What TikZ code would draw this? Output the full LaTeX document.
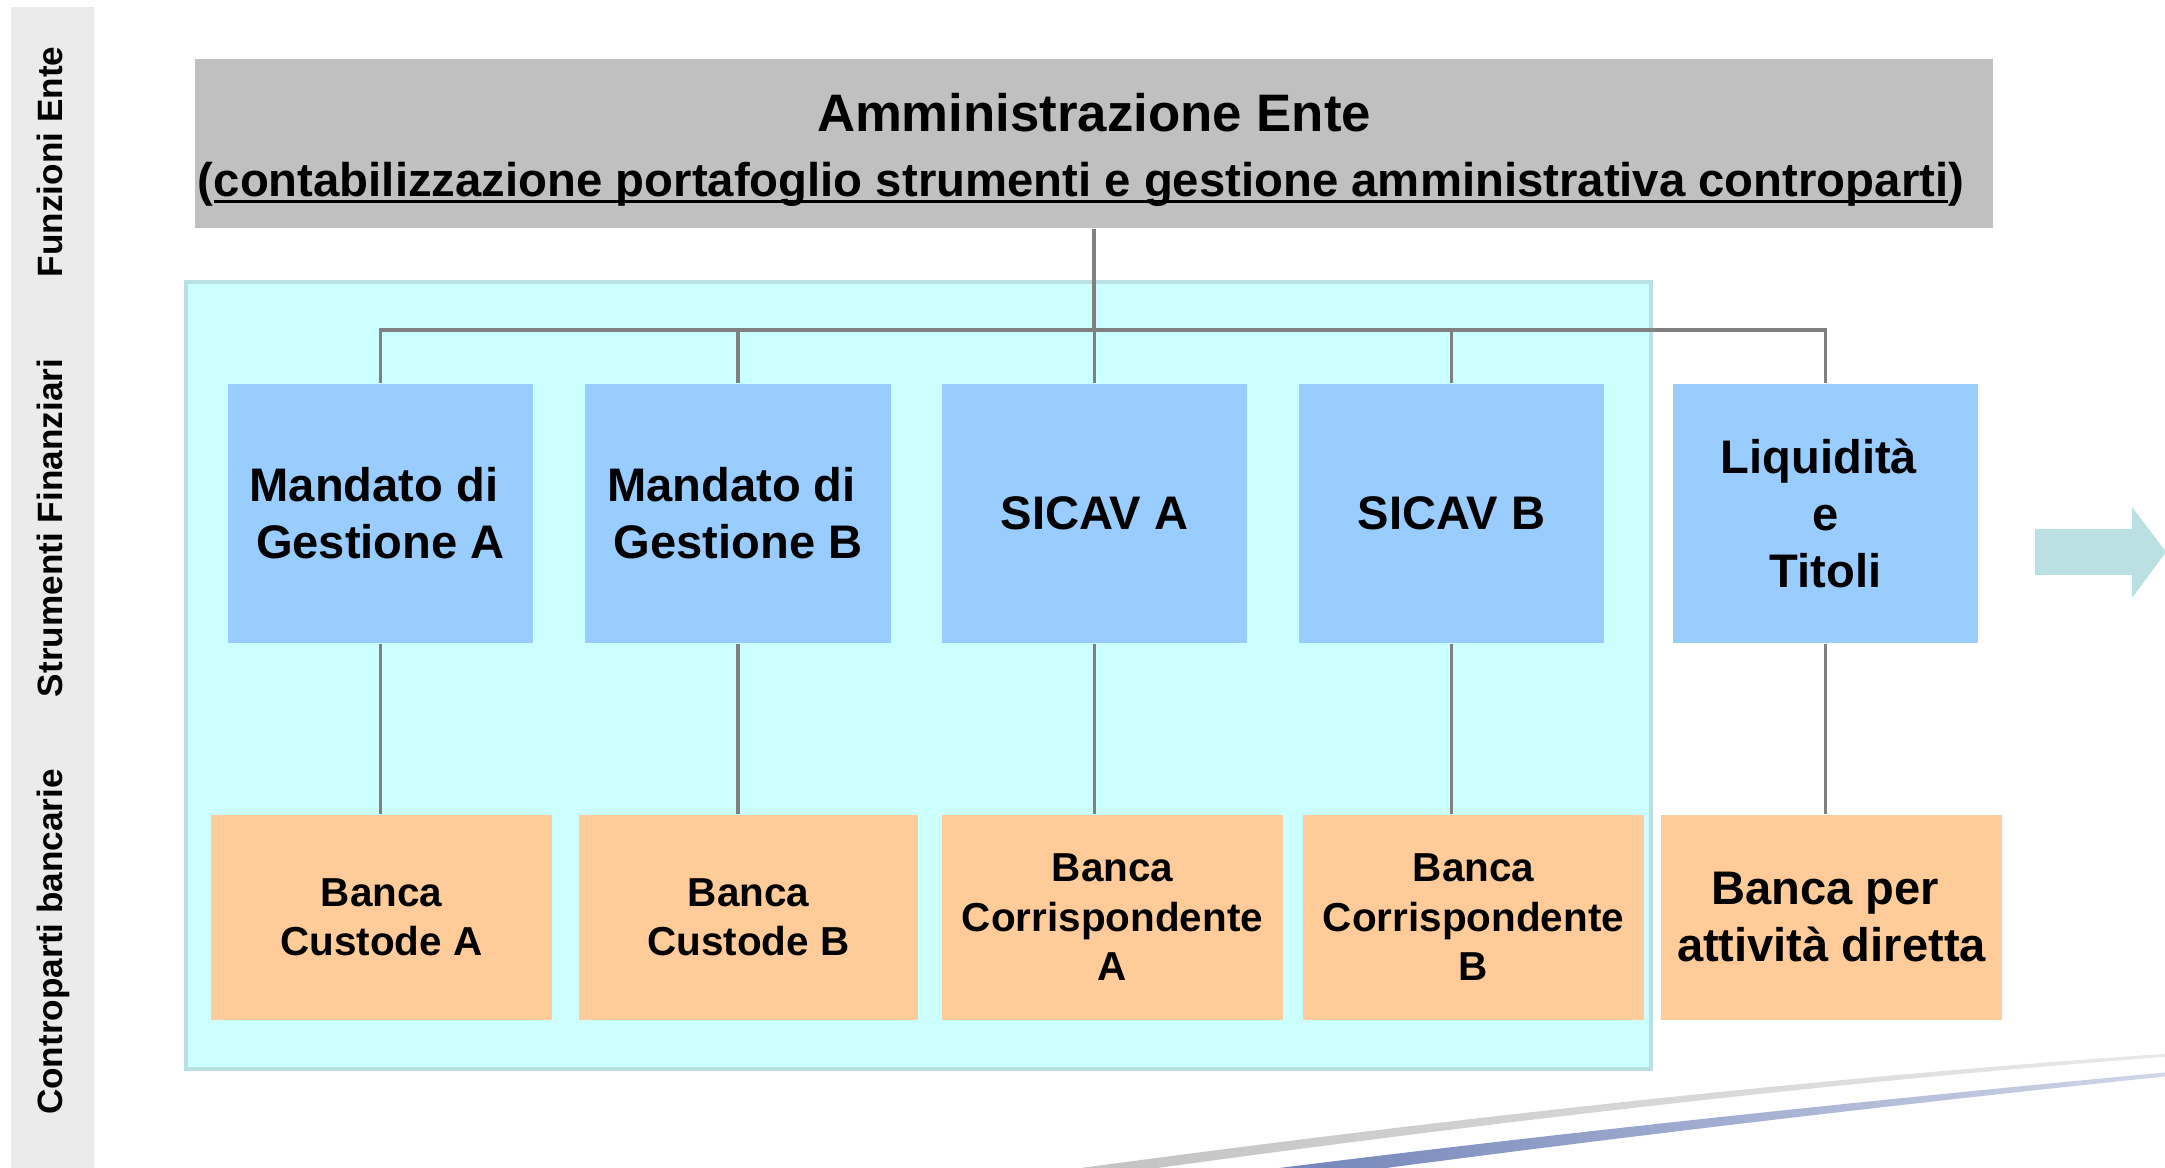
\documentclass[tikz,border=0pt]{standalone}
\usepackage{fontspec}
\setmainfont{Liberation Sans}
\definecolor{blueb}{HTML}{99CCFF}
\definecolor{orangeb}{HTML}{FFCC99}
\definecolor{grayb}{HTML}{C0C0C0}
\definecolor{panelf}{HTML}{CCFFFF}
\definecolor{panelb}{HTML}{BBE0E3}
\definecolor{sidef}{HTML}{EBEBEB}
\definecolor{connc}{HTML}{808080}
\definecolor{arrowc}{HTML}{BBE0E3}
\definecolor{swblue}{HTML}{6A7DB5}
\newcommand\myul[1]{\setbox0\hbox{#1}\rlap{\rule[-0.13em]{\wd0}{0.065em}}\box0}
\newcommand\tsp{\kern0.278em}
\begin{document}
\begin{tikzpicture}[x=0.01cm,y=-0.01cm,
  bluebox/.style={fill=blueb, minimum width=3.05cm, minimum height=2.59cm, inner sep=0pt, align=center, font=\fontsize{13.4pt}{16.2pt}\selectfont\bfseries},
  orangebox/.style={fill=orangeb, minimum width=3.41cm, minimum height=2.05cm, inner sep=0pt, align=center, font=\fontsize{11.5pt}{14.1pt}\selectfont\bfseries},
  connline/.style={draw=connc, line width=0.9pt},
  sidelabel/.style={rotate=90, anchor=base, inner sep=0pt, font=\fontsize{10pt}{12pt}\selectfont\bfseries}]
\useasboundingbox (0,0) rectangle (2165,1168);
% left strip
\fill[sidef] (11,7) rectangle (94,1168);
\node[sidelabel] (s1) at (63,162) {Funzioni Ente};
\node[sidelabel] (s2) at (63,528) {Strumenti Finanziari};
\node[sidelabel] (s3) at (63,942) {Controparti bancarie};
% top box
\node[fill=grayb, minimum width=17.96cm, minimum height=1.69cm, inner sep=0pt] (adm) at (1094,143.5) {};
\node[anchor=base, inner sep=0pt, font=\fontsize{15pt}{18pt}\selectfont\bfseries] (admt) at (1094,132) {Amministrazione Ente};
\node[anchor=base, inner sep=0pt, font=\fontsize{13.45pt}{16pt}\selectfont\bfseries] (adms) at (1081,197) {(\myul{contabilizzazione portafoglio strumenti e gestione amministrativa controparti})};
% panel
\draw[panelb, line width=1.14pt, fill=panelf] (186,282) rectangle (1651,1069);
% blue boxes
\node[bluebox] (b1) at (380.5,513.5) {Mandato di\tsp\\Gestione A};
\node[bluebox] (b2) at (738,513.5) {Mandato di\tsp\\Gestione B};
\node[bluebox] (b3) at (1094.5,513.5) {SICAV A};
\node[bluebox] (b4) at (1451.5,513.5) {SICAV B};
\node[bluebox] (b5) at (1825.5,513.5) {Liquidità\tsp\\e\\Titoli};
% orange boxes
\node[orangebox, minimum width=3.41cm] (o1) at (381.5,917.5) {Banca\\Custode A};
\node[orangebox, minimum width=3.39cm] (o2) at (748.5,917.5) {Banca\\Custode B};
\node[orangebox] (o3) at (1112.5,917.5) {Banca\\Corrispondente\\A};
\node[orangebox] (o4) at (1473.5,917.5) {Banca\\Corrispondente\\B};
\node[orangebox, font=\fontsize{13.4pt}{16.2pt}\selectfont\bfseries] (o5) at (1831.5,917.5) {Banca per\tsp\\attività diretta};
% connectors
\coordinate (hub) at (1094,330);
\draw[connline] (adm.south) -- (hub);
\draw[connline] (b1.north) |- (hub) -| (b5.north);
\draw[connline] (b2.north) -- (b2.north |- hub);
\draw[connline] (b3.north) -- (b3.north |- hub);
\draw[connline] (b4.north) -- (b4.north |- hub);
\foreach \i in {1,...,5} {\draw[connline] (b\i.south) -- (b\i.south |- o\i.north);}
% right arrow
\fill[arrowc] (2035,529) -- (2132,529) -- (2132,507) -- (2166,552) -- (2132,598) -- (2132,575) -- (2035,575) -- cycle;
% swooshes
\begin{scope}
\clip (0,0) rectangle (2165,1168);
\shade[left color=grayb, right color=grayb!35] (1000,1179) .. controls (1400,1124) and (1800,1078.5) .. (2170,1053.5) -- (2170,1056.5) .. controls (1800,1084) and (1400,1133) .. (1000,1190) -- cycle;
\shade[left color=swblue, right color=swblue!30] (1200,1178) .. controls (1520,1137) and (1850,1102) .. (2170,1072) -- (2170,1076) .. controls (1850,1109) and (1520,1149) .. (1200,1193) -- cycle;
\end{scope}
\end{tikzpicture}
\end{document}
